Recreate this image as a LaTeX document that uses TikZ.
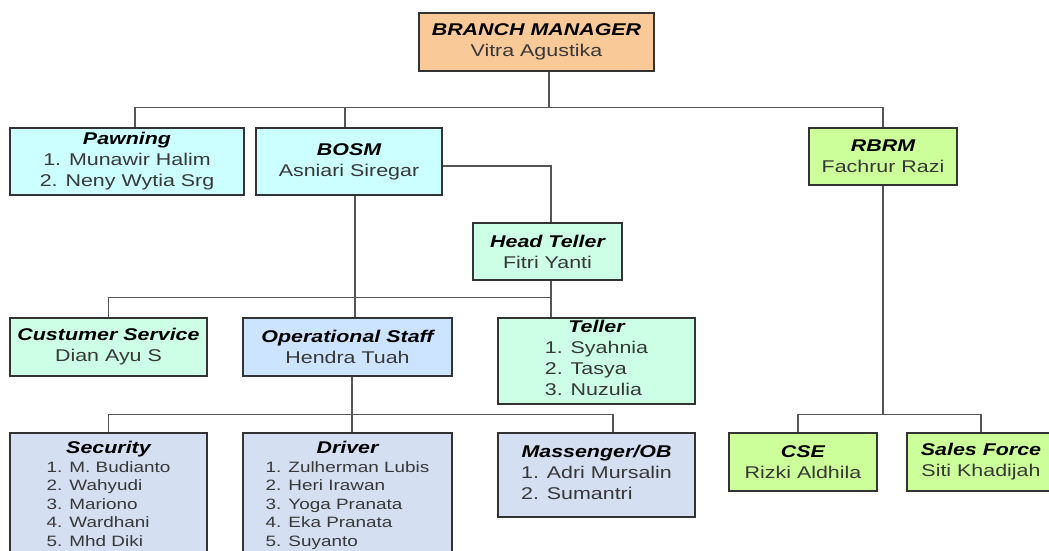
\documentclass[tikz,border=0pt]{standalone}
\usepackage{fontspec}
\setmainfont{Liberation Sans}[FakeStretch=1.26]

\definecolor{BranchPeach}{RGB}{250,201,152}
\definecolor{BoxCyan}{RGB}{204,255,255}
\definecolor{BoxMint}{RGB}{204,255,230}
\definecolor{BoxBlue}{RGB}{204,228,255}
\definecolor{BoxSteel}{RGB}{212,223,241}
\definecolor{BoxLime}{RGB}{204,255,153}
\definecolor{NameGrey}{RGB}{55,55,55}
\definecolor{LineGrey}{RGB}{85,85,85}
\newcommand{\roletitle}[1]{{\bfseries\itshape\color{black}#1}}

\begin{document}
\begin{tikzpicture}[x=1pt, y=-1pt,
    post/.style={draw=black!80, line width=1.3pt, align=center, inner sep=2pt,
        font=\fontsize{17}{21}\selectfont, text=NameGrey},
    link/.style={draw=LineGrey, line width=1.3pt}]
                \useasboundingbox (0,0) rectangle (1049,550);
                \clip (0,0) rectangle (1049,550);

                % top
                \node[post, fill=BranchPeach, minimum width=235, minimum height=58] (bm) at (536.5,42) {\roletitle{BRANCH MANAGER}\\Vitra Agustika};

                % second row
                \node[post, fill=BoxCyan, minimum width=234, minimum height=67] (pawning) at (127,161.5) {\roletitle{Pawning}\\1. Munawir Halim\\2. Neny Wytia Srg};
                \node[post, fill=BoxCyan, minimum width=186, minimum height=67] (bosm) at (349,161.5) {\roletitle{BOSM}\\Asniari Siregar};
                \node[post, fill=BoxLime, minimum width=148, minimum height=57] (rbrm) at (883,156.5) {\roletitle{RBRM}\\Fachrur Razi};
                \node[post, fill=BoxMint, minimum width=149, minimum height=57] (headteller) at (547.5,251.5) {\roletitle{Head Teller}\\Fitri Yanti};

                % third row
                \node[post, fill=BoxMint, minimum width=197, minimum height=58] (cs) at (108.5,347) {\roletitle{Custumer Service}\\Dian Ayu S};
                \node[post, fill=BoxBlue, minimum width=209, minimum height=58] (opstaff) at (347.5,347) {\roletitle{Operational Staff}\\Hendra Tuah};
                \node[post, fill=BoxMint, minimum width=197, minimum height=86] (teller) at (596.5,361) {\roletitle{Teller}\\\begin{tabular}[t]{@{}l@{}}1. Syahnia\\2. Tasya\\3. Nuzulia\end{tabular}};

                % bottom row
                \node[post, fill=BoxSteel, minimum width=197, minimum height=127] (security) at (108.5,496.5) {\roletitle{Security}\\[-2pt]{\fontsize{15}{18.5}\selectfont\begin{tabular}[t]{@{}l@{}}1. M. Budianto\\2. Wahyudi\\3. Mariono\\4. Wardhani\\5. Mhd Diki\end{tabular}}};
                \node[post, fill=BoxSteel, minimum width=209, minimum height=127] (driver) at (347.5,496.5) {\roletitle{Driver}\\[-2pt]{\fontsize{15}{18.5}\selectfont\begin{tabular}[t]{@{}l@{}}1. Zulherman Lubis\\2. Heri Irawan\\3. Yoga Pranata\\4. Eka Pranata\\5. Suyanto\end{tabular}}};
                \node[post, fill=BoxSteel, minimum width=197, minimum height=84] (messenger) at (596.5,475) {\roletitle{Massenger/OB}\\\begin{tabular}[t]{@{}l@{}}1. Adri Mursalin\\2. Sumantri\end{tabular}};
                \node[post, fill=BoxLime, minimum width=148, minimum height=58] (cse) at (803,462) {\roletitle{CSE}\\Rizki Aldhila};
                \node[post, fill=BoxLime, minimum width=148, minimum height=58] (salesforce) at (981,462) {\roletitle{Sales Force}\\Siti Khadijah};

                % connectors
                \draw[link] ([xshift=12.5]bm.south) -- ++(0,36) coordinate (j1);
                \draw[link] ([xshift=8]pawning.north) |- (j1) -| (rbrm.north);
                \draw[link] ([xshift=-4]bosm.north) -- ([xshift=-4]bosm.north |- j1);
                \draw[link] ([yshift=-4.5]bosm.east) -| ([xshift=3.5]headteller.north);
                \draw[link] ([xshift=6]bosm.south) -- ([xshift=6]bosm.south |- opstaff.north);
                \draw[link] ([xshift=3.5]headteller.south) -- ++(0,17) coordinate (j2) -- (j2 |- teller.north);
                \draw[link] (cs.north) |- (j2);
                \draw[link] ([xshift=4.5]opstaff.south) -- ++(0,38) coordinate (j3) -- (j3 |- driver.north);
                \draw[link] (security.north) |- (j3) -| ([xshift=16.5]messenger.north);
                \draw[link] (rbrm.south) -- ++(0,229) coordinate (j4);
                \draw[link] ([xshift=-5]cse.north) |- (j4) -| (salesforce.north);
            \end{tikzpicture}
\end{document}
